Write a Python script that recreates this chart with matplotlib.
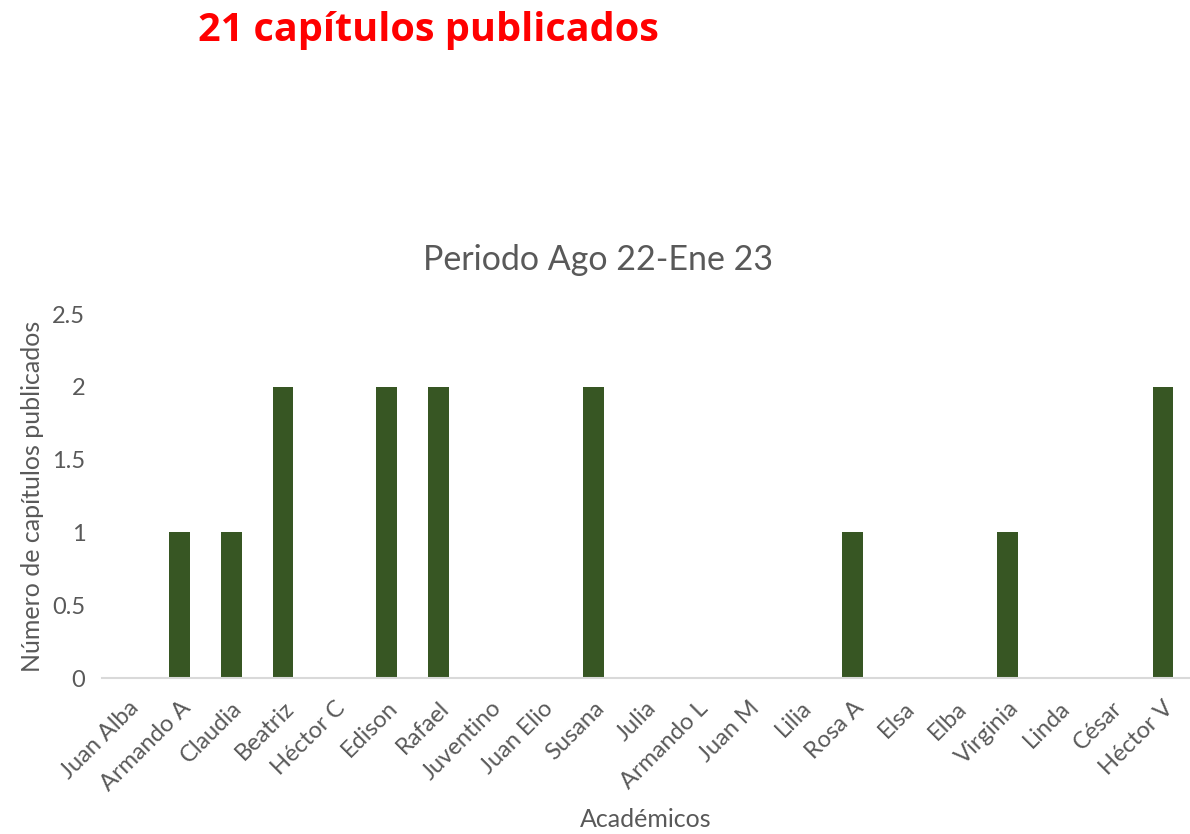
import numpy as np
import matplotlib.pyplot as plt

academicos = ["Juan Alba", "Armando A", "Claudia", "Beatriz", "Héctor C", "Edison",
              "Rafael", "Juventino", "Juan Elio", "Susana", "Julia", "Armando L",
              "Juan M", "Lilia", "Rosa A", "Elsa", "Elba", "Virginia", "Linda",
              "César", "Héctor V"]
capitulos = [0, 1, 1, 2, 0, 2, 2, 0, 0, 2, 0, 0, 0, 0, 1, 0, 0, 1, 0, 0, 2]
y_ticks = [0, 0.5, 1, 1.5, 2, 2.5]
y_tick_labels = ["0", "0.5", "1", "1.5", "2", "2.5"]

plt.rcParams['font.family'] = ['Lato', 'DejaVu Sans']
gray = "#595959"

fig = plt.figure(figsize=(11.9, 8.34), dpi=100)
ax = fig.add_axes([0.0857, 0.187, 0.9133, 0.4365])

x = np.arange(len(academicos))
ax.bar(x, capitulos, width=0.4, color="#375623")

ax.set_xlim(-0.5, len(academicos) - 0.5)
ax.set_ylim(0, 2.5)
ax.set_yticks(y_ticks)
ax.set_yticklabels(y_tick_labels)
ax.set_xticks(x)
ax.set_xticklabels(academicos, rotation=45, ha="right", rotation_mode="anchor")
ax.tick_params(axis="both", length=0, labelsize=17, colors=gray)
ax.tick_params(axis="y", pad=12)
ax.tick_params(axis="x", pad=14)

for side in ["top", "right", "left"]:
    ax.spines[side].set_visible(False)
ax.spines["bottom"].set_color("#d9d9d9")
ax.spines["bottom"].set_linewidth(1.5)

ax.set_xlabel("Académicos", fontsize=18, color=gray)
ax.xaxis.set_label_coords(0.5, -(808 - 678) / 364, transform=ax.transAxes)
ax.set_ylabel("Número de capítulos publicados", fontsize=18, color=gray)
ax.yaxis.set_label_coords(-(102 - 44) / 1087, 0.5, transform=ax.transAxes)

fig.text(598 / 1190, 1 - 260 / 834, "Periodo Ago 22-Ene 23", fontsize=24.5,
         color=gray, ha="center", va="center")
fig.text(428 / 1190, 1 - 30 / 834, "21 capítulos publicados", fontsize=28.5,
         color="#ff0000", fontweight="bold", family=["Open Sans", "DejaVu Sans"],
         ha="center", va="center")

fig.savefig("out.png", dpi=100)
